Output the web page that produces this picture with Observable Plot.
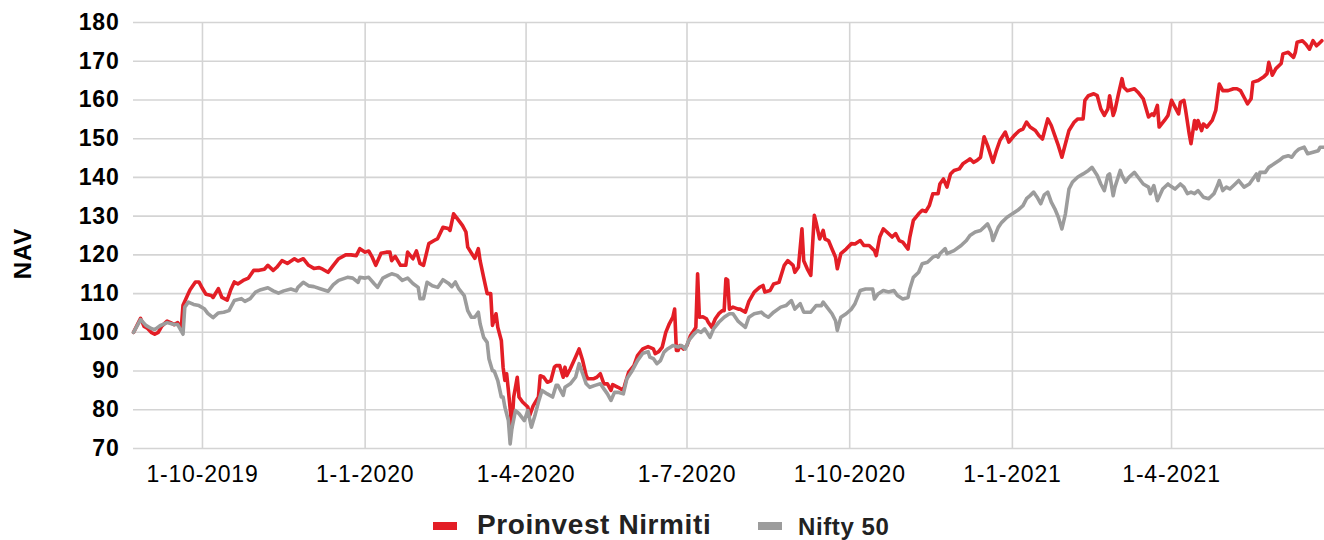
<!DOCTYPE html>
<html>
<head>
<meta charset="utf-8">
<script src="https://cdn.jsdelivr.net/npm/d3@7"></script>
<script src="https://cdn.jsdelivr.net/npm/@observablehq/plot@0.6"></script>
<style>
  html, body { margin: 0; padding: 0; background: #fff; }
  #wrap { position: relative; width: 1324px; height: 540px; overflow: hidden; font-family: "Liberation Sans", Arial, sans-serif; }
  #wrap svg text { letter-spacing: 0.8px; }
  .sw { position: absolute; height: 8px; width: 24px; }
  .lg { position: absolute; font-weight: bold; line-height: 1; white-space: nowrap; color: #222; letter-spacing: 0.6px; }
</style>
</head>
<body>
<div id="wrap"></div>
<script>
// ---- data ----
const seriesNames = ["Proinvest Nirmiti", "Nifty 50"];
const seriesColors = ["#e31e26", "#9c9c9c"];

const yTicks = [70, 80, 90, 100, 110, 120, 130, 140, 150, 160, 170, 180];
const xTickDates = ["2019-10-01", "2020-01-01", "2020-04-01", "2020-07-01", "2020-10-01", "2021-01-01", "2021-04-01"];
const xTickLabels = ["1-10-2019", "1-1-2020", "1-4-2020", "1-7-2020", "1-10-2020", "1-1-2021", "1-4-2021"];

const proinvestDates = [
"2019-08-23","2019-08-27","2019-08-29","2019-08-31","2019-09-02","2019-09-04","2019-09-06","2019-09-08","2019-09-11","2019-09-13",
"2019-09-15","2019-09-17","2019-09-19","2019-09-20","2019-09-23","2019-09-24","2019-09-27","2019-09-29","2019-10-01","2019-10-03",
"2019-10-06","2019-10-07","2019-10-10","2019-10-12","2019-10-15","2019-10-17","2019-10-19","2019-10-21","2019-10-24","2019-10-27",
"2019-10-30","2019-11-02","2019-11-05","2019-11-07","2019-11-10","2019-11-12","2019-11-15","2019-11-18","2019-11-22","2019-11-24",
"2019-11-27","2019-11-30","2019-12-03","2019-12-06","2019-12-08","2019-12-11","2019-12-14","2019-12-17","2019-12-21","2019-12-24",
"2019-12-27","2019-12-29","2020-01-01","2020-01-03","2020-01-05","2020-01-07","2020-01-10","2020-01-13","2020-01-15","2020-01-16",
"2020-01-18","2020-01-21","2020-01-24","2020-01-25","2020-01-28","2020-01-30","2020-02-01","2020-02-03","2020-02-06","2020-02-09",
"2020-02-11","2020-02-14","2020-02-17","2020-02-18","2020-02-20","2020-02-22","2020-02-25","2020-02-27","2020-02-28","2020-03-02",
"2020-03-03","2020-03-05","2020-03-06","2020-03-08","2020-03-10","2020-03-12","2020-03-13","2020-03-15","2020-03-16","2020-03-18",
"2020-03-19","2020-03-20","2020-03-21","2020-03-22","2020-03-24","2020-03-25","2020-03-27","2020-03-28","2020-03-30","2020-04-02",
"2020-04-03","2020-04-05","2020-04-08","2020-04-09","2020-04-11","2020-04-13","2020-04-15","2020-04-17","2020-04-18","2020-04-20",
"2020-04-22","2020-04-23","2020-04-24","2020-04-26","2020-04-29","2020-05-01","2020-05-03","2020-05-05","2020-05-06","2020-05-09",
"2020-05-11","2020-05-13","2020-05-15","2020-05-17","2020-05-19","2020-05-20","2020-05-23","2020-05-26","2020-05-27","2020-05-29",
"2020-06-01","2020-06-03","2020-06-06","2020-06-09","2020-06-12","2020-06-13","2020-06-15","2020-06-17","2020-06-19","2020-06-21",
"2020-06-23","2020-06-24","2020-06-25","2020-06-26","2020-06-27","2020-06-29","2020-07-01","2020-07-03","2020-07-05","2020-07-06",
"2020-07-07","2020-07-08","2020-07-10","2020-07-12","2020-07-13","2020-07-15","2020-07-17","2020-07-19","2020-07-21","2020-07-22",
"2020-07-23","2020-07-24","2020-07-25","2020-07-27","2020-07-30","2020-07-31","2020-08-03","2020-08-05","2020-08-08","2020-08-11",
"2020-08-13","2020-08-14","2020-08-17","2020-08-19","2020-08-22","2020-08-25","2020-08-27","2020-08-30","2020-08-31","2020-09-02",
"2020-09-04","2020-09-05","2020-09-07","2020-09-09","2020-09-11","2020-09-12","2020-09-14","2020-09-16","2020-09-17","2020-09-19",
"2020-09-21","2020-09-23","2020-09-24","2020-09-26","2020-09-29","2020-10-02","2020-10-04","2020-10-07","2020-10-09","2020-10-12",
"2020-10-15","2020-10-16","2020-10-18","2020-10-20","2020-10-22","2020-10-25","2020-10-27","2020-10-29","2020-10-31","2020-11-03",
"2020-11-04","2020-11-06","2020-11-09","2020-11-11","2020-11-13","2020-11-15","2020-11-17","2020-11-20","2020-11-21","2020-11-23",
"2020-11-25","2020-11-27","2020-11-29","2020-12-02","2020-12-04","2020-12-07","2020-12-08","2020-12-10","2020-12-12","2020-12-14",
"2020-12-16","2020-12-18","2020-12-21","2020-12-23","2020-12-25","2020-12-28","2020-12-30","2021-01-02","2021-01-05","2021-01-07",
"2021-01-09","2021-01-11","2021-01-14","2021-01-16","2021-01-18","2021-01-21","2021-01-23","2021-01-25","2021-01-27","2021-01-29",
"2021-01-31","2021-02-02","2021-02-05","2021-02-07","2021-02-10","2021-02-11","2021-02-13","2021-02-16","2021-02-18","2021-02-20",
"2021-02-22","2021-02-24","2021-02-25","2021-02-27","2021-02-28","2021-03-02","2021-03-04","2021-03-05","2021-03-07","2021-03-11",
"2021-03-13","2021-03-16","2021-03-19","2021-03-21","2021-03-22","2021-03-24","2021-03-25","2021-03-28","2021-03-30","2021-04-01",
"2021-04-02","2021-04-05","2021-04-06","2021-04-08","2021-04-09","2021-04-11","2021-04-12","2021-04-14","2021-04-15","2021-04-16",
"2021-04-18","2021-04-19","2021-04-21","2021-04-24","2021-04-26","2021-04-28","2021-04-30","2021-05-03","2021-05-06","2021-05-08",
"2021-05-10","2021-05-12","2021-05-14","2021-05-16","2021-05-17","2021-05-20","2021-05-23","2021-05-25","2021-05-26","2021-05-28",
"2021-05-30","2021-06-02","2021-06-03","2021-06-06","2021-06-09","2021-06-10","2021-06-11","2021-06-14","2021-06-16","2021-06-18",
"2021-06-20","2021-06-22","2021-06-23","2021-06-25"
];
const proinvestNav = [
100,103.6,101.5,101,100,99.5,100,101.6,102.9,102.5,
102,102.5,101,107,110,111,113,113,111.3,109.8,
109.5,109,111.3,109,108.3,111,113,112.5,113.4,114,
116,116,116.3,117.3,116,116.8,118.5,117.8,119,118.4,
119,117.3,116.5,116.7,116.3,115.5,117.3,119,120,120,
119.8,121.6,120.7,121,119.4,117.3,120.4,120.7,120.7,118.5,
119.6,117.3,117.3,120.7,119,121,117.8,117.3,122.9,123.7,
124.2,127.1,126.8,126.3,130.6,129.4,127.6,125.9,122,119.8,
119.1,121.6,118.5,114.2,110,110,101.8,104.8,101.3,97.9,
91,87.6,89.3,85,75.5,83.3,88.4,83.3,82,80.7,
78.5,81,83.3,88.8,88.4,87.1,87.5,91,91.4,91.4,
88.4,91,88.8,90.6,93.6,95.7,92.7,88.8,88,88,
88.4,89.3,86.7,86.7,85,86.5,85.8,85,86.7,89.7,
91.4,94,95.7,96.3,95.7,94.5,95,96.2,100,102.2,
103.9,106,95.3,95.3,96.6,95.7,96.6,99.2,100.5,101.3,
115.1,103.9,104,103.5,102.6,101.3,103.5,104.8,105.6,105.6,
113.8,113.5,106,106.5,106,106,105.2,108,110.4,111.6,
112.1,110.4,110.8,112.5,112.9,117.3,118.5,117.3,115.5,116.8,
126.7,118.5,116.4,114.7,130.2,128.4,124.1,126.3,124.1,123.7,
121.5,119.4,116.4,120.3,121.5,122.9,122.8,123.7,122.4,122.4,
121.1,119.8,124.6,126.7,125.9,124.6,125.5,123.7,123.3,121.5,
124.6,128.9,130.6,131.5,131.2,132.7,135.8,135.8,138.3,139.6,
137.5,140.9,141.8,142.2,143.5,144.4,144.8,143.9,144.4,145.2,
150.5,148.2,143.9,147,149.6,151.7,149.1,150.8,152.1,152.5,
154.3,153,152.1,150.8,149.9,155.1,153.4,150.8,148.2,145.2,
148.7,152.1,154.3,155.1,155.1,159.9,161.1,161.6,161.1,157.7,
156,157.7,161.1,156,157.3,161.6,165.5,163.3,162.4,162.9,
162,160.3,155.6,156.4,156,158.6,153,154.7,156,159.9,
159,156.4,159.4,159.9,157.3,151.2,148.7,154.7,152.5,154.7,
152.1,153.8,153,154.7,157.3,164.1,162.4,162.4,162.9,162.9,
162.4,160.7,159,160.3,164.6,165,165.9,166.8,169.7,166.4,
168.1,169.4,171.9,172.3,171,172.3,174.9,175.3,174.4,173.1,
175.3,174,174.4,175.3
];

const niftyDates = [
"2019-08-23","2019-08-27","2019-08-30","2019-09-02","2019-09-04","2019-09-07","2019-09-11","2019-09-15","2019-09-17","2019-09-20",
"2019-09-21","2019-09-23","2019-09-26","2019-09-29","2019-10-02","2019-10-04","2019-10-07","2019-10-10","2019-10-13","2019-10-16",
"2019-10-19","2019-10-23","2019-10-25","2019-10-28","2019-10-31","2019-11-03","2019-11-07","2019-11-10","2019-11-13","2019-11-16",
"2019-11-20","2019-11-23","2019-11-24","2019-11-27","2019-11-30","2019-12-03","2019-12-07","2019-12-11","2019-12-14","2019-12-17",
"2019-12-22","2019-12-25","2019-12-28","2019-12-29","2020-01-01","2020-01-03","2020-01-06","2020-01-08","2020-01-11","2020-01-14",
"2020-01-16","2020-01-19","2020-01-22","2020-01-25","2020-01-28","2020-01-31","2020-02-01","2020-02-03","2020-02-05","2020-02-08",
"2020-02-11","2020-02-14","2020-02-17","2020-02-19","2020-02-21","2020-02-23","2020-02-26","2020-02-28","2020-03-01","2020-03-03",
"2020-03-05","2020-03-06","2020-03-08","2020-03-10","2020-03-11","2020-03-13","2020-03-14","2020-03-16","2020-03-18","2020-03-19",
"2020-03-20","2020-03-22","2020-03-23","2020-03-24","2020-03-26","2020-03-28","2020-03-31","2020-04-02","2020-04-04","2020-04-06",
"2020-04-08","2020-04-10","2020-04-13","2020-04-16","2020-04-18","2020-04-19","2020-04-22","2020-04-23","2020-04-26","2020-04-29",
"2020-05-01","2020-05-03","2020-05-05","2020-05-07","2020-05-10","2020-05-13","2020-05-15","2020-05-17","2020-05-19","2020-05-21",
"2020-05-23","2020-05-26","2020-05-28","2020-05-31","2020-06-03","2020-06-06","2020-06-09","2020-06-10","2020-06-12","2020-06-14",
"2020-06-16","2020-06-18","2020-06-20","2020-06-22","2020-06-23","2020-06-26","2020-06-28","2020-06-30","2020-07-02","2020-07-05",
"2020-07-07","2020-07-09","2020-07-11","2020-07-14","2020-07-16","2020-07-19","2020-07-22","2020-07-25","2020-07-27","2020-07-30",
"2020-08-03","2020-08-05","2020-08-08","2020-08-12","2020-08-14","2020-08-16","2020-08-19","2020-08-23","2020-08-26","2020-08-29",
"2020-08-31","2020-09-03","2020-09-05","2020-09-09","2020-09-12","2020-09-15","2020-09-16","2020-09-19","2020-09-21","2020-09-23",
"2020-09-24","2020-09-26","2020-09-29","2020-10-02","2020-10-04","2020-10-07","2020-10-10","2020-10-14","2020-10-15","2020-10-17",
"2020-10-20","2020-10-23","2020-10-26","2020-10-28","2020-10-31","2020-11-03","2020-11-04","2020-11-06","2020-11-09","2020-11-11",
"2020-11-14","2020-11-17","2020-11-19","2020-11-20","2020-11-21","2020-11-24","2020-11-25","2020-11-29","2020-12-03","2020-12-06",
"2020-12-08","2020-12-11","2020-12-14","2020-12-18","2020-12-20","2020-12-21","2020-12-24","2020-12-26","2020-12-29","2021-01-01",
"2021-01-04","2021-01-07","2021-01-09","2021-01-11","2021-01-13","2021-01-15","2021-01-17","2021-01-19","2021-01-21","2021-01-23",
"2021-01-25","2021-01-27","2021-01-29","2021-01-31","2021-02-02","2021-02-04","2021-02-07","2021-02-10","2021-02-13","2021-02-15",
"2021-02-18","2021-02-20","2021-02-22","2021-02-24","2021-02-25","2021-02-27","2021-02-28","2021-03-03","2021-03-04","2021-03-06",
"2021-03-08","2021-03-11","2021-03-13","2021-03-16","2021-03-19","2021-03-20","2021-03-22","2021-03-24","2021-03-27","2021-03-30",
"2021-03-31","2021-04-03","2021-04-06","2021-04-08","2021-04-10","2021-04-12","2021-04-14","2021-04-16","2021-04-19","2021-04-22",
"2021-04-25","2021-04-27","2021-04-28","2021-04-30","2021-05-02","2021-05-04","2021-05-07","2021-05-09","2021-05-12","2021-05-15",
"2021-05-17","2021-05-19","2021-05-20","2021-05-21","2021-05-24","2021-05-26","2021-05-29","2021-06-01","2021-06-03","2021-06-06",
"2021-06-08","2021-06-10","2021-06-12","2021-06-15","2021-06-17","2021-06-20","2021-06-23","2021-06-24","2021-06-26"
];
const niftyNav = [
100,103.3,101.8,101,100.7,101.7,102.5,102,102,99.5,
106.5,107.8,107.2,106.9,106.1,104.9,103.8,105,105.2,105.6,
108.2,108.7,108,108.7,110.4,111,111.5,110.7,110.1,110.7,
111.2,110.7,111.6,112.9,112,111.8,111.2,110.6,112.3,113.4,
114.2,114,112.9,114.2,114,114.2,112.6,111.6,114,114.7,
115.1,114.7,113.4,114,112.6,111.6,108.7,108.7,112.9,112,
111.6,113.6,112.7,111.8,113,111.2,109.5,105.6,103.9,103.9,
105.2,102.2,98.7,97.4,93.2,90.1,90,87.5,83.3,83.3,
80.7,77.2,71.2,75.2,79.8,79,77.2,79.8,75.5,78.5,
82,85,84.1,83.3,86.3,86.3,83.7,85.8,86.7,88.4,
91.9,89.3,86.7,85.8,86.3,86.7,85.4,84.1,82.4,84.5,
84.5,84.1,88,90.1,92.7,94.6,95,93.6,93.2,91.9,
92.7,94.9,95.7,96.3,96.6,96.2,96.6,95.7,97.9,99.6,
100.4,100,100.9,98.7,100.9,102.6,103.9,104.8,104.8,102.8,
101.3,103.9,104.8,105.2,104.4,103.9,105.2,106.5,106.9,108.2,
106,107.4,105.2,105.2,106.9,106.9,107.8,106,104.8,103,
100.5,103.9,104.8,106,107.4,110.8,111.2,111.2,108.6,109.9,
110.8,110.4,110.8,109.5,108.6,109,111.2,114.2,115.5,117.7,
118.1,119.4,119.8,119.4,120.3,121.6,120.3,121.1,122.4,123.7,
125,125.9,126.3,128,125.9,123.7,127.1,128.4,129.7,130.6,
131.5,132.7,134.5,135.3,136.2,134.9,133.2,135.5,136.2,133.6,
131.9,129.7,126.7,130.6,137,138.8,140.1,140.9,141.8,142.6,
140.5,138.3,136.6,140.5,140.9,135.3,137.5,141.8,140.5,138.8,
140.1,141.3,140.1,138.3,137.5,135.8,137.9,134,137,138.3,
137.9,137,138.3,137.5,135.8,136.2,135.8,136.6,134.9,134.5,
135.8,137.9,139.2,136.6,137.5,137,138.3,139.2,137.5,138.3,
139.6,140.9,139.2,141.3,141.3,142.6,143.5,144.4,145.2,145.6,
145.2,146.5,147.3,147.8,146.1,146.5,146.9,147.8,147.8
];

// ---- build ----
const parse = d3.utcParse("%Y-%m-%d");
const toRows = (dates, vals, name) => dates.map((d, i) => ({date: parse(d), nav: vals[i], series: name}));
const proRows = toRows(proinvestDates, proinvestNav, seriesNames[0]);
const niftyRows = toRows(niftyDates, niftyNav, seriesNames[1]);
const xTicks = xTickDates.map(parse);
const labelOf = new Map(xTicks.map((d, i) => [+d, xTickLabels[i]]));

const chart = Plot.plot({
  width: 1324,
  height: 490,
  marginLeft: 133,
  marginRight: 0,
  marginTop: 22,
  marginBottom: 42,
  x: {type: "utc", domain: [parse("2019-08-23"), new Date(Date.UTC(2021, 5, 26, 12))]},
  y: {domain: [70, 180]},
  style: {fontFamily: "'Liberation Sans', Arial, sans-serif", fontSize: "23px", color: "#000", background: "#fff", overflow: "visible"},
  marks: [
    Plot.gridY(yTicks, {stroke: "#d4d4d4", strokeOpacity: 1, strokeWidth: 1.6}),
    Plot.gridX(xTicks, {stroke: "#d4d4d4", strokeOpacity: 1, strokeWidth: 1.6}),
    Plot.lineY(proRows, {x: "date", y: "nav", stroke: seriesColors[0], strokeWidth: 3.6, strokeLinejoin: "round"}),
    Plot.lineY(niftyRows, {x: "date", y: "nav", stroke: seriesColors[1], strokeWidth: 3.6, strokeLinejoin: "round"}),
    Plot.axisY({ticks: yTicks, tickSize: 0, tickPadding: 14, fontWeight: "bold", label: null}),
    Plot.axisX({ticks: xTicks, tickSize: 0, tickPadding: 17, tickFormat: d => labelOf.get(+d), label: null}),
    Plot.text(["NAV"], {text: d => d, frameAnchor: "left", textAnchor: "middle", lineAnchor: "middle", rotate: -90, dx: -110, dy: 18, fontWeight: "bold", fontSize: 24})
  ]
});

const wrap = document.getElementById("wrap");
wrap.appendChild(chart);

// legend (HTML, below the SVG)
const legendItems = [
  {name: seriesNames[0], color: seriesColors[0], swLeft: 433, txtLeft: 477, size: 28},
  {name: seriesNames[1], color: seriesColors[1], swLeft: 758, txtLeft: 798, size: 24}
];
for (const it of legendItems) {
  const sw = document.createElement("div");
  sw.className = "sw";
  sw.style.left = it.swLeft + "px";
  sw.style.top = "522px";
  sw.style.background = it.color;
  wrap.appendChild(sw);
  const t = document.createElement("div");
  t.className = "lg";
  t.textContent = it.name;
  t.style.left = it.txtLeft + "px";
  t.style.fontSize = it.size + "px";
  t.style.top = (535 - 0.8465 * it.size) + "px";
  wrap.appendChild(t);
}
</script>
</body>
</html>
